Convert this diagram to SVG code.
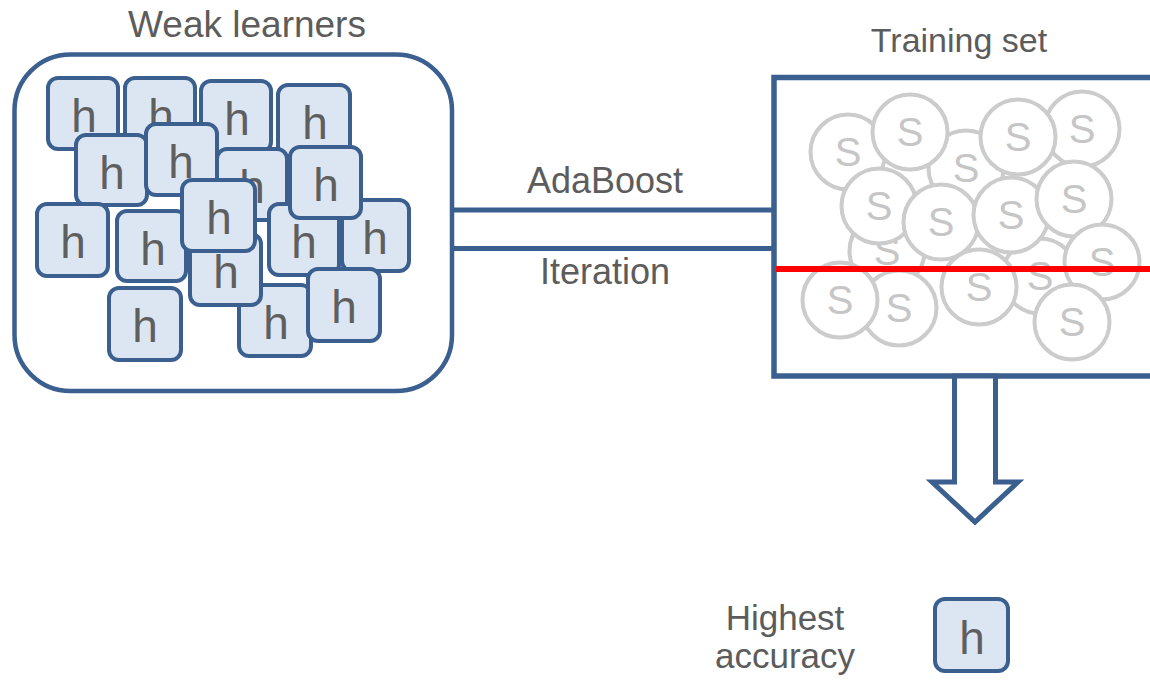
<svg xmlns="http://www.w3.org/2000/svg" width="1150" height="684" viewBox="0 0 1150 684">
  <style>
    .label { font-family: "Liberation Sans", Arial, sans-serif; font-size: 36px; fill: #5c5c5c; text-anchor: middle; }
    .frame { fill: #ffffff; stroke: #3b5f8f; stroke-width: 4.5; }
    .hbox rect { fill: #dce6f2; stroke: #3b5f8f; stroke-width: 4; }
    .hbox text { font-family: "Liberation Sans", Arial, sans-serif; font-size: 46px; fill: #5f5f5f; text-anchor: middle; }
    .sample circle { fill: #ffffff; stroke: #cccccc; stroke-width: 4; }
    .sample text { font-family: "Liberation Sans", Arial, sans-serif; font-size: 40px; fill: #c6c6c6; text-anchor: middle; }
    .link { stroke: #3b5f8f; stroke-width: 5; fill: none; }
  </style>

  <!-- connectors: AdaBoost iteration bus and output arrow -->
  <g id="connectors">
    <line class="link" x1="452" y1="210" x2="774" y2="210"/>
    <line class="link" x1="452" y1="248.5" x2="774" y2="248.5"/>
    <text class="label" x="605" y="193">AdaBoost</text>
    <text class="label" x="605" y="284">Iteration</text>
  </g>

  <!-- pool of weak learners -->
  <g id="weak-learners">
    <text class="label" x="247" y="37" style="font-size:37px">Weak learners</text>
    <rect class="frame" x="14.5" y="54.5" width="437.5" height="336.5" rx="56"/>
    <g class="hbox"><rect x="48" y="78" width="70" height="71" rx="10"/><text x="84" y="132">h</text></g>
    <g class="hbox"><rect x="125" y="78" width="70" height="71" rx="10"/><text x="161" y="132">h</text></g>
    <g class="hbox"><rect x="201" y="81" width="70" height="71" rx="10"/><text x="237" y="135">h</text></g>
    <g class="hbox"><rect x="278" y="85" width="72" height="71" rx="10"/><text x="315" y="139">h</text></g>
    <g class="hbox"><rect x="76" y="135" width="71" height="70" rx="10"/><text x="112" y="189">h</text></g>
    <g class="hbox"><rect x="146" y="124" width="71" height="71" rx="10"/><text x="181" y="178">h</text></g>
    <g class="hbox"><rect x="217" y="149" width="70" height="71" rx="10"/><text x="252" y="203">h</text></g>
    <g class="hbox"><rect x="37" y="204" width="71" height="72" rx="10"/><text x="73" y="258">h</text></g>
    <g class="hbox"><rect x="117" y="211" width="69" height="70" rx="10"/><text x="153" y="265">h</text></g>
    <g class="hbox"><rect x="269" y="204" width="70" height="71" rx="10"/><text x="304" y="258">h</text></g>
    <g class="hbox"><rect x="342" y="200" width="67" height="71" rx="10"/><text x="375" y="254">h</text></g>
    <g class="hbox"><rect x="239" y="285" width="72" height="71" rx="10"/><text x="276" y="339">h</text></g>
    <g class="hbox"><rect x="190" y="234" width="71" height="71" rx="10"/><text x="226" y="288">h</text></g>
    <g class="hbox"><rect x="182" y="180" width="73" height="71" rx="10"/><text x="219" y="234">h</text></g>
    <g class="hbox"><rect x="290" y="147" width="71" height="71" rx="10"/><text x="326" y="201">h</text></g>
    <g class="hbox"><rect x="308" y="269" width="72" height="72" rx="10"/><text x="344" y="323">h</text></g>
    <g class="hbox"><rect x="109" y="288" width="72" height="72" rx="10"/><text x="145" y="342">h</text></g>
  </g>

  <!-- training set with its sample points -->
  <g id="training-set">
    <text class="label" x="959" y="52" style="font-size:34px">Training set</text>
    <rect class="frame" x="774" y="77.5" width="400" height="298.5" style="stroke-width:5.5"/>
    <g class="sample"><circle cx="966" cy="168" r="37.5"/><text x="966" y="182">S</text></g>
    <g class="sample"><circle cx="887" cy="251" r="37.5"/><text x="887" y="265">S</text></g>
    <g class="sample"><circle cx="1040" cy="276" r="37.5"/><text x="1040" y="290">S</text></g>
    <g class="sample"><circle cx="848" cy="152" r="37.5"/><text x="848" y="166">S</text></g>
    <g class="sample"><circle cx="910" cy="132" r="37.5"/><text x="910" y="146">S</text></g>
    <g class="sample"><circle cx="1082" cy="129" r="37.5"/><text x="1082" y="143">S</text></g>
    <g class="sample"><circle cx="1018" cy="137" r="37.5"/><text x="1018" y="151">S</text></g>
    <g class="sample"><circle cx="879" cy="206" r="37.5"/><text x="879" y="220">S</text></g>
    <g class="sample"><circle cx="941" cy="222" r="37.5"/><text x="941" y="236">S</text></g>
    <g class="sample"><circle cx="1011" cy="215" r="37.5"/><text x="1011" y="229">S</text></g>
    <g class="sample"><circle cx="1074" cy="199" r="37.5"/><text x="1074" y="213">S</text></g>
    <g class="sample"><circle cx="899" cy="308" r="37.5"/><text x="899" y="322">S</text></g>
    <g class="sample"><circle cx="840" cy="300" r="37.5"/><text x="840" y="314">S</text></g>
    <g class="sample"><circle cx="979" cy="287" r="37.5"/><text x="979" y="301">S</text></g>
    <g class="sample"><circle cx="1102" cy="262" r="37.5"/><text x="1102" y="276">S</text></g>
    <g class="sample"><circle cx="1072" cy="322" r="37.5"/><text x="1072" y="336">S</text></g>
    <!-- threshold line -->
    <line x1="776" y1="269" x2="1150" y2="269" stroke="#ff0000" stroke-width="6"/>
  </g>

  <!-- hollow output arrow -->
  <g id="output-arrow">
    <polygon class="link" points="954.5,376 954.5,482 932,482 975,522 1018,482 995.5,482 995.5,376" style="fill:#ffffff"/>
  </g>

  <!-- chosen learner -->
  <g id="best-learner">
    <text class="label" x="785" y="630" style="font-size:35px">Highest</text>
    <text class="label" x="785" y="668" style="font-size:35px">accuracy</text>
    <g class="hbox"><rect x="935" y="599" width="73" height="72" rx="10"/><text x="972" y="654">h</text></g>
  </g>
</svg>
